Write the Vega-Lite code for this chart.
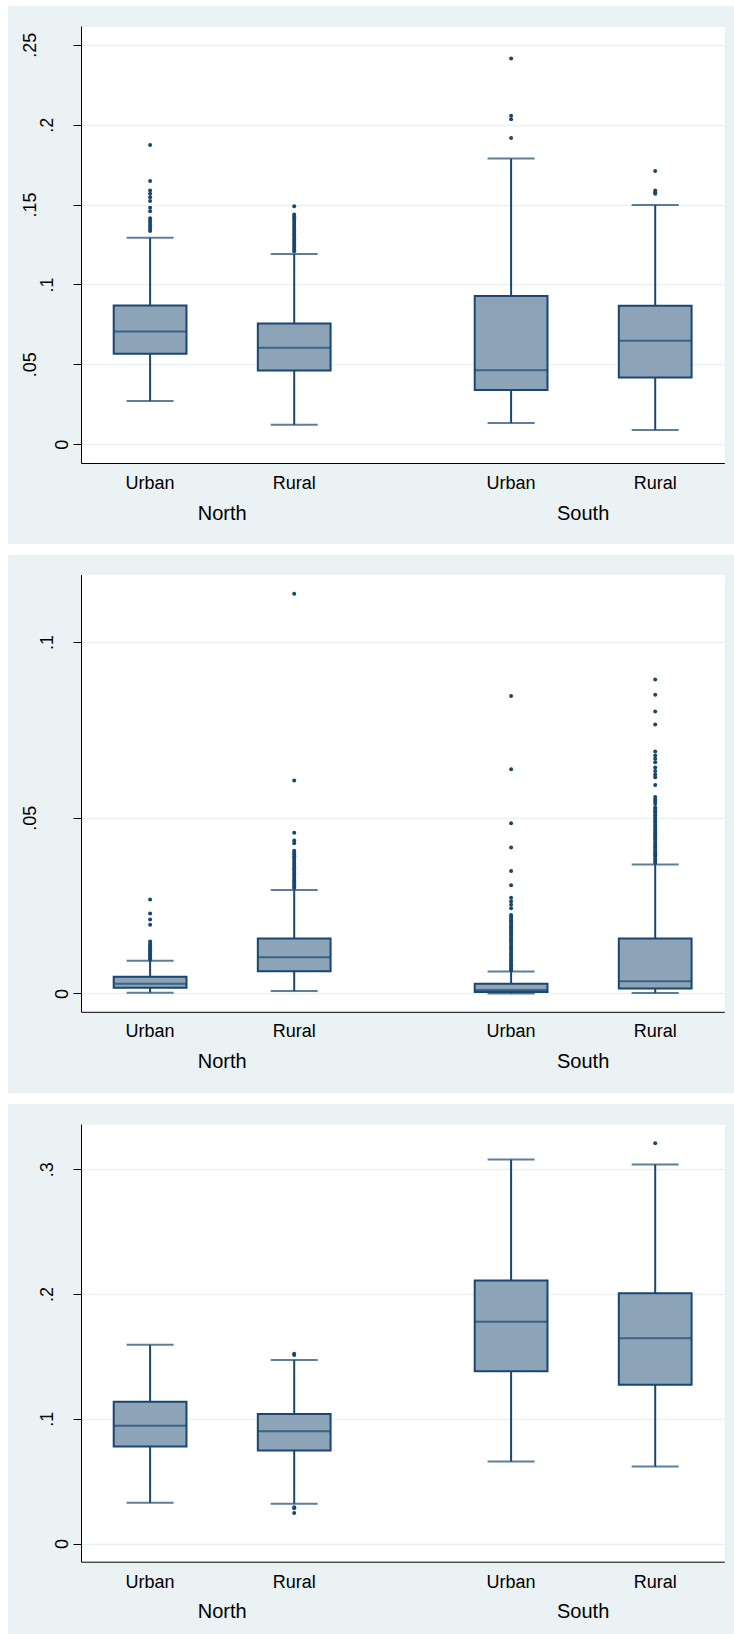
{
  "$schema": "https://vega.github.io/schema/vega-lite/v6.json",
  "background": "white",
  "padding": {"left": 8, "top": 6, "right": 0, "bottom": 0},
  "autosize": {"type": "pad"},
  "spacing": 11,
  "config": {"font": "Liberation Sans", "view": {"stroke": null}},
  "datasets": {
    "summary": [
      {"panel": 1, "region": "North", "area": "Urban", "lower": 0.0270, "q1": 0.0566, "median": 0.0705, "q3": 0.0868, "upper": 0.1292},
      {"panel": 1, "region": "North", "area": "Rural", "lower": 0.0122, "q1": 0.0461, "median": 0.0603, "q3": 0.0755, "upper": 0.1190},
      {"panel": 1, "region": "South", "area": "Urban", "lower": 0.0133, "q1": 0.0339, "median": 0.0463, "q3": 0.0927, "upper": 0.1789},
      {"panel": 1, "region": "South", "area": "Rural", "lower": 0.0089, "q1": 0.0418, "median": 0.0648, "q3": 0.0866, "upper": 0.1497},
      {"panel": 2, "region": "North", "area": "Urban", "lower": 0.0002, "q1": 0.00158, "median": 0.00277, "q3": 0.00475, "upper": 0.00929},
      {"panel": 2, "region": "North", "area": "Rural", "lower": 0.0007, "q1": 0.0063, "median": 0.0103, "q3": 0.0156, "upper": 0.0294},
      {"panel": 2, "region": "South", "area": "Urban", "lower": 0.0000, "q1": 0.0004, "median": 0.00099, "q3": 0.00277, "upper": 0.00623},
      {"panel": 2, "region": "South", "area": "Rural", "lower": 0.0001, "q1": 0.0014, "median": 0.00346, "q3": 0.0156, "upper": 0.0367},
      {"panel": 3, "region": "North", "area": "Urban", "lower": 0.0328, "q1": 0.0777, "median": 0.0944, "q3": 0.1136, "upper": 0.1593},
      {"panel": 3, "region": "North", "area": "Rural", "lower": 0.0320, "q1": 0.0746, "median": 0.0900, "q3": 0.1039, "upper": 0.1470},
      {"panel": 3, "region": "South", "area": "Urban", "lower": 0.0657, "q1": 0.1381, "median": 0.1777, "q3": 0.2108, "upper": 0.3077},
      {"panel": 3, "region": "South", "area": "Rural", "lower": 0.0618, "q1": 0.1273, "median": 0.1646, "q3": 0.2005, "upper": 0.3038}
    ],
    "outliers": [
      {"panel": 1, "region": "North", "area": "Urban", "value": 0.1873},
      {"panel": 1, "region": "North", "area": "Urban", "value": 0.1647},
      {"panel": 1, "region": "North", "area": "Urban", "value": 0.1588},
      {"panel": 1, "region": "North", "area": "Urban", "value": 0.1567},
      {"panel": 1, "region": "North", "area": "Urban", "value": 0.1545},
      {"panel": 1, "region": "North", "area": "Urban", "value": 0.1523},
      {"panel": 1, "region": "North", "area": "Urban", "value": 0.1480},
      {"panel": 1, "region": "North", "area": "Urban", "value": 0.1458},
      {"panel": 1, "region": "North", "area": "Urban", "value": 0.1414},
      {"panel": 1, "region": "North", "area": "Urban", "value": 0.1400},
      {"panel": 1, "region": "North", "area": "Urban", "value": 0.1386},
      {"panel": 1, "region": "North", "area": "Urban", "value": 0.1371},
      {"panel": 1, "region": "North", "area": "Urban", "value": 0.1356},
      {"panel": 1, "region": "North", "area": "Urban", "value": 0.1342},
      {"panel": 1, "region": "North", "area": "Urban", "value": 0.1334},
      {"panel": 1, "region": "North", "area": "Rural", "value": 0.1490},
      {"panel": 1, "region": "North", "area": "Rural", "value": 0.1438},
      {"panel": 1, "region": "North", "area": "Rural", "value": 0.1426},
      {"panel": 1, "region": "North", "area": "Rural", "value": 0.1415},
      {"panel": 1, "region": "North", "area": "Rural", "value": 0.1403},
      {"panel": 1, "region": "North", "area": "Rural", "value": 0.1391},
      {"panel": 1, "region": "North", "area": "Rural", "value": 0.1379},
      {"panel": 1, "region": "North", "area": "Rural", "value": 0.1366},
      {"panel": 1, "region": "North", "area": "Rural", "value": 0.1354},
      {"panel": 1, "region": "North", "area": "Rural", "value": 0.1342},
      {"panel": 1, "region": "North", "area": "Rural", "value": 0.1330},
      {"panel": 1, "region": "North", "area": "Rural", "value": 0.1318},
      {"panel": 1, "region": "North", "area": "Rural", "value": 0.1306},
      {"panel": 1, "region": "North", "area": "Rural", "value": 0.1293},
      {"panel": 1, "region": "North", "area": "Rural", "value": 0.1281},
      {"panel": 1, "region": "North", "area": "Rural", "value": 0.1268},
      {"panel": 1, "region": "North", "area": "Rural", "value": 0.1256},
      {"panel": 1, "region": "North", "area": "Rural", "value": 0.1243},
      {"panel": 1, "region": "North", "area": "Rural", "value": 0.1231},
      {"panel": 1, "region": "North", "area": "Rural", "value": 0.1219},
      {"panel": 1, "region": "North", "area": "Rural", "value": 0.1207},
      {"panel": 1, "region": "South", "area": "Urban", "value": 0.2415},
      {"panel": 1, "region": "South", "area": "Urban", "value": 0.2056},
      {"panel": 1, "region": "South", "area": "Urban", "value": 0.2034},
      {"panel": 1, "region": "South", "area": "Urban", "value": 0.1917},
      {"panel": 1, "region": "South", "area": "Rural", "value": 0.1710},
      {"panel": 1, "region": "South", "area": "Rural", "value": 0.1588},
      {"panel": 1, "region": "South", "area": "Rural", "value": 0.1576},
      {"panel": 1, "region": "South", "area": "Rural", "value": 0.1567},
      {"panel": 2, "region": "North", "area": "Urban", "value": 0.0267},
      {"panel": 2, "region": "North", "area": "Urban", "value": 0.0227},
      {"panel": 2, "region": "North", "area": "Urban", "value": 0.0210},
      {"panel": 2, "region": "North", "area": "Urban", "value": 0.0195},
      {"panel": 2, "region": "North", "area": "Urban", "value": 0.0148},
      {"panel": 2, "region": "North", "area": "Urban", "value": 0.0141},
      {"panel": 2, "region": "North", "area": "Urban", "value": 0.0136},
      {"panel": 2, "region": "North", "area": "Urban", "value": 0.0131},
      {"panel": 2, "region": "North", "area": "Urban", "value": 0.0127},
      {"panel": 2, "region": "North", "area": "Urban", "value": 0.0123},
      {"panel": 2, "region": "North", "area": "Urban", "value": 0.0119},
      {"panel": 2, "region": "North", "area": "Urban", "value": 0.0115},
      {"panel": 2, "region": "North", "area": "Urban", "value": 0.0111},
      {"panel": 2, "region": "North", "area": "Urban", "value": 0.0107},
      {"panel": 2, "region": "North", "area": "Urban", "value": 0.0103},
      {"panel": 2, "region": "North", "area": "Urban", "value": 0.0099},
      {"panel": 2, "region": "North", "area": "Urban", "value": 0.0096},
      {"panel": 2, "region": "North", "area": "Rural", "value": 0.1137},
      {"panel": 2, "region": "North", "area": "Rural", "value": 0.0606},
      {"panel": 2, "region": "North", "area": "Rural", "value": 0.0457},
      {"panel": 2, "region": "North", "area": "Rural", "value": 0.0435},
      {"panel": 2, "region": "North", "area": "Rural", "value": 0.0427},
      {"panel": 2, "region": "North", "area": "Rural", "value": 0.0406},
      {"panel": 2, "region": "North", "area": "Rural", "value": 0.0401},
      {"panel": 2, "region": "North", "area": "Rural", "value": 0.0396},
      {"panel": 2, "region": "North", "area": "Rural", "value": 0.0390},
      {"panel": 2, "region": "North", "area": "Rural", "value": 0.0385},
      {"panel": 2, "region": "North", "area": "Rural", "value": 0.0380},
      {"panel": 2, "region": "North", "area": "Rural", "value": 0.0374},
      {"panel": 2, "region": "North", "area": "Rural", "value": 0.0369},
      {"panel": 2, "region": "North", "area": "Rural", "value": 0.0364},
      {"panel": 2, "region": "North", "area": "Rural", "value": 0.0358},
      {"panel": 2, "region": "North", "area": "Rural", "value": 0.0353},
      {"panel": 2, "region": "North", "area": "Rural", "value": 0.0348},
      {"panel": 2, "region": "North", "area": "Rural", "value": 0.0342},
      {"panel": 2, "region": "North", "area": "Rural", "value": 0.0337},
      {"panel": 2, "region": "North", "area": "Rural", "value": 0.0332},
      {"panel": 2, "region": "North", "area": "Rural", "value": 0.0326},
      {"panel": 2, "region": "North", "area": "Rural", "value": 0.0321},
      {"panel": 2, "region": "North", "area": "Rural", "value": 0.0316},
      {"panel": 2, "region": "North", "area": "Rural", "value": 0.0310},
      {"panel": 2, "region": "North", "area": "Rural", "value": 0.0305},
      {"panel": 2, "region": "North", "area": "Rural", "value": 0.0300},
      {"panel": 2, "region": "South", "area": "Urban", "value": 0.0846},
      {"panel": 2, "region": "South", "area": "Urban", "value": 0.0638},
      {"panel": 2, "region": "South", "area": "Urban", "value": 0.0484},
      {"panel": 2, "region": "South", "area": "Urban", "value": 0.0415},
      {"panel": 2, "region": "South", "area": "Urban", "value": 0.0348},
      {"panel": 2, "region": "South", "area": "Urban", "value": 0.0308},
      {"panel": 2, "region": "South", "area": "Urban", "value": 0.0272},
      {"panel": 2, "region": "South", "area": "Urban", "value": 0.0262},
      {"panel": 2, "region": "South", "area": "Urban", "value": 0.0252},
      {"panel": 2, "region": "South", "area": "Urban", "value": 0.0242},
      {"panel": 2, "region": "South", "area": "Urban", "value": 0.0223},
      {"panel": 2, "region": "South", "area": "Urban", "value": 0.0219},
      {"panel": 2, "region": "South", "area": "Urban", "value": 0.0213},
      {"panel": 2, "region": "South", "area": "Urban", "value": 0.0208},
      {"panel": 2, "region": "South", "area": "Urban", "value": 0.0204},
      {"panel": 2, "region": "South", "area": "Urban", "value": 0.0199},
      {"panel": 2, "region": "South", "area": "Urban", "value": 0.0193},
      {"panel": 2, "region": "South", "area": "Urban", "value": 0.0188},
      {"panel": 2, "region": "South", "area": "Urban", "value": 0.0184},
      {"panel": 2, "region": "South", "area": "Urban", "value": 0.0179},
      {"panel": 2, "region": "South", "area": "Urban", "value": 0.0173},
      {"panel": 2, "region": "South", "area": "Urban", "value": 0.0168},
      {"panel": 2, "region": "South", "area": "Urban", "value": 0.0164},
      {"panel": 2, "region": "South", "area": "Urban", "value": 0.0158},
      {"panel": 2, "region": "South", "area": "Urban", "value": 0.0153},
      {"panel": 2, "region": "South", "area": "Urban", "value": 0.0149},
      {"panel": 2, "region": "South", "area": "Urban", "value": 0.0144},
      {"panel": 2, "region": "South", "area": "Urban", "value": 0.0138},
      {"panel": 2, "region": "South", "area": "Urban", "value": 0.0133},
      {"panel": 2, "region": "South", "area": "Urban", "value": 0.0129},
      {"panel": 2, "region": "South", "area": "Urban", "value": 0.0124},
      {"panel": 2, "region": "South", "area": "Urban", "value": 0.0118},
      {"panel": 2, "region": "South", "area": "Urban", "value": 0.0113},
      {"panel": 2, "region": "South", "area": "Urban", "value": 0.0109},
      {"panel": 2, "region": "South", "area": "Urban", "value": 0.0104},
      {"panel": 2, "region": "South", "area": "Urban", "value": 0.0098},
      {"panel": 2, "region": "South", "area": "Urban", "value": 0.0094},
      {"panel": 2, "region": "South", "area": "Urban", "value": 0.0089},
      {"panel": 2, "region": "South", "area": "Urban", "value": 0.0084},
      {"panel": 2, "region": "South", "area": "Urban", "value": 0.0079},
      {"panel": 2, "region": "South", "area": "Urban", "value": 0.0075},
      {"panel": 2, "region": "South", "area": "Urban", "value": 0.0070},
      {"panel": 2, "region": "South", "area": "Urban", "value": 0.0066},
      {"panel": 2, "region": "South", "area": "Rural", "value": 0.0893},
      {"panel": 2, "region": "South", "area": "Rural", "value": 0.0850},
      {"panel": 2, "region": "South", "area": "Rural", "value": 0.0802},
      {"panel": 2, "region": "South", "area": "Rural", "value": 0.0765},
      {"panel": 2, "region": "South", "area": "Rural", "value": 0.0688},
      {"panel": 2, "region": "South", "area": "Rural", "value": 0.0677},
      {"panel": 2, "region": "South", "area": "Rural", "value": 0.0668},
      {"panel": 2, "region": "South", "area": "Rural", "value": 0.0658},
      {"panel": 2, "region": "South", "area": "Rural", "value": 0.0643},
      {"panel": 2, "region": "South", "area": "Rural", "value": 0.0633},
      {"panel": 2, "region": "South", "area": "Rural", "value": 0.0623},
      {"panel": 2, "region": "South", "area": "Rural", "value": 0.0615},
      {"panel": 2, "region": "South", "area": "Rural", "value": 0.0593},
      {"panel": 2, "region": "South", "area": "Rural", "value": 0.0559},
      {"panel": 2, "region": "South", "area": "Rural", "value": 0.0552},
      {"panel": 2, "region": "South", "area": "Rural", "value": 0.0546},
      {"panel": 2, "region": "South", "area": "Rural", "value": 0.0539},
      {"panel": 2, "region": "South", "area": "Rural", "value": 0.0529},
      {"panel": 2, "region": "South", "area": "Rural", "value": 0.0524},
      {"panel": 2, "region": "South", "area": "Rural", "value": 0.0518},
      {"panel": 2, "region": "South", "area": "Rural", "value": 0.0513},
      {"panel": 2, "region": "South", "area": "Rural", "value": 0.0507},
      {"panel": 2, "region": "South", "area": "Rural", "value": 0.0502},
      {"panel": 2, "region": "South", "area": "Rural", "value": 0.0496},
      {"panel": 2, "region": "South", "area": "Rural", "value": 0.0491},
      {"panel": 2, "region": "South", "area": "Rural", "value": 0.0486},
      {"panel": 2, "region": "South", "area": "Rural", "value": 0.0480},
      {"panel": 2, "region": "South", "area": "Rural", "value": 0.0475},
      {"panel": 2, "region": "South", "area": "Rural", "value": 0.0469},
      {"panel": 2, "region": "South", "area": "Rural", "value": 0.0464},
      {"panel": 2, "region": "South", "area": "Rural", "value": 0.0458},
      {"panel": 2, "region": "South", "area": "Rural", "value": 0.0453},
      {"panel": 2, "region": "South", "area": "Rural", "value": 0.0447},
      {"panel": 2, "region": "South", "area": "Rural", "value": 0.0442},
      {"panel": 2, "region": "South", "area": "Rural", "value": 0.0437},
      {"panel": 2, "region": "South", "area": "Rural", "value": 0.0431},
      {"panel": 2, "region": "South", "area": "Rural", "value": 0.0426},
      {"panel": 2, "region": "South", "area": "Rural", "value": 0.0420},
      {"panel": 2, "region": "South", "area": "Rural", "value": 0.0415},
      {"panel": 2, "region": "South", "area": "Rural", "value": 0.0409},
      {"panel": 2, "region": "South", "area": "Rural", "value": 0.0404},
      {"panel": 2, "region": "South", "area": "Rural", "value": 0.0399},
      {"panel": 2, "region": "South", "area": "Rural", "value": 0.0393},
      {"panel": 2, "region": "South", "area": "Rural", "value": 0.0388},
      {"panel": 2, "region": "South", "area": "Rural", "value": 0.0382},
      {"panel": 2, "region": "South", "area": "Rural", "value": 0.0377},
      {"panel": 2, "region": "South", "area": "Rural", "value": 0.0372},
      {"panel": 3, "region": "North", "area": "Rural", "value": 0.1522},
      {"panel": 3, "region": "North", "area": "Rural", "value": 0.1511},
      {"panel": 3, "region": "North", "area": "Rural", "value": 0.0292},
      {"panel": 3, "region": "North", "area": "Rural", "value": 0.0283},
      {"panel": 3, "region": "North", "area": "Rural", "value": 0.0245},
      {"panel": 3, "region": "South", "area": "Rural", "value": 0.3208}
    ]
  },
  "vconcat": [
    {
      "width": 726, "height": 538,
      "view": {"fill": "#EAF2F3", "stroke": null},
      "resolve": {"axis": {"y": "independent"}},
      "layer": [
        {
          "data": {"name": "summary"},
          "transform": [{"filter": "datum.panel == 1"}],
          "mark": {"type": "rule", "color": "#1A476F", "strokeWidth": 2},
          "encoding": {
            "x": {"field": "region", "type": "nominal",
              "scale": {"domain": ["North", "South"], "range": [73, 716.3], "paddingInner": 0.218, "paddingOuter": 0},
              "axis": {"title": null, "orient": "bottom", "offset": -81, "domainColor": "black", "domainWidth": 1, "ticks": false, "tickSize": 0, "labelAngle": 0, "labelFontSize": 20, "labelFont": "Liberation Sans", "labelColor": "black", "labelBaseline": "alphabetic", "labelAlign": "center", "labelPadding": 56, "grid": false}},
            "xOffset": {"field": "area", "type": "nominal", "scale": {"domain": ["Urban", "Rural"], "paddingInner": 0.495, "paddingOuter": 0.227}},
            "y": {"field": "lower", "type": "quantitative",
              "scale": {"domain": [-0.01177, 0.26177], "range": [457, 20], "nice": false, "zero": false},
              "axis": {"orient": "left", "offset": -73, "title": null, "values": [0.125], "grid": true, "gridColor": "white", "gridWidth": 437, "domain": false, "ticks": false, "labels": false}},
            "y2": {"field": "upper"}
          }
        },
        {
          "data": {"name": "summary"},
          "transform": [{"filter": "datum.panel == 1"}],
          "mark": {"type": "bar", "fill": "#8DA3B8", "stroke": "#1A476F", "strokeWidth": 2},
          "encoding": {
            "x": {"field": "region", "type": "nominal"},
            "xOffset": {"field": "area", "type": "nominal"},
            "y": {"field": "q1", "type": "quantitative",
              "axis": {"orient": "left", "offset": -73, "title": null, "values": [0, 0.05, 0.1, 0.15, 0.2, 0.25],
                "labelExpr": "datum.value == 0 ? '0' : substring(format(datum.value, '.2~f'), 1)",
                "labelAngle": -90, "labelAlign": "center", "labelBaseline": "alphabetic", "labelFontSize": 18, "labelFont": "Liberation Sans", "labelColor": "black",
                "labelPadding": {"expr": "datum.value == 0 ? 6 : (round(datum.value * 100) % 10 == 0 ? 21 : 38)"},
                "labelOverlap": false, "labelFlush": false, "tickSize": 8, "tickColor": "black", "domainColor": "black", "domainWidth": 1,
                "grid": true, "gridColor": "#EAF2F3", "gridWidth": 1.5}},
            "y2": {"field": "q3"}
          }
        },
        {
          "data": {"name": "summary"},
          "transform": [{"filter": "datum.panel == 1"}],
          "mark": {"type": "tick", "color": "#1A476F", "size": 72, "thickness": 2},
          "encoding": {
            "x": {"field": "region", "type": "nominal"},
            "xOffset": {"field": "area", "type": "nominal"},
            "y": {"field": "median", "type": "quantitative", "axis": null}
          }
        },
        {
          "data": {"name": "summary"},
          "transform": [{"filter": "datum.panel == 1"}],
          "mark": {"type": "tick", "color": "#1A476F", "size": 47, "thickness": 2},
          "encoding": {
            "x": {"field": "region", "type": "nominal"},
            "xOffset": {"field": "area", "type": "nominal"},
            "y": {"field": "lower", "type": "quantitative", "axis": null}
          }
        },
        {
          "data": {"name": "summary"},
          "transform": [{"filter": "datum.panel == 1"}],
          "mark": {"type": "tick", "color": "#1A476F", "size": 47, "thickness": 2},
          "encoding": {
            "x": {"field": "region", "type": "nominal"},
            "xOffset": {"field": "area", "type": "nominal"},
            "y": {"field": "upper", "type": "quantitative", "axis": null}
          }
        },
        {
          "data": {"name": "outliers"},
          "transform": [{"filter": "datum.panel == 1"}],
          "mark": {"type": "point", "filled": true, "color": "#1A476F", "opacity": 1, "size": 16},
          "encoding": {
            "x": {"field": "region", "type": "nominal"},
            "xOffset": {"field": "area", "type": "nominal"},
            "y": {"field": "value", "type": "quantitative", "axis": null}
          }
        },
        {
          "data": {"name": "summary"},
          "transform": [{"filter": "datum.panel == 1"}],
          "mark": {"type": "text", "fontSize": 18, "font": "Liberation Sans", "color": "black", "baseline": "alphabetic", "align": "center", "dy": 25.5},
          "encoding": {
            "x": {"field": "region", "type": "nominal"},
            "xOffset": {"field": "area", "type": "nominal"},
            "y": {"datum": -0.01177, "type": "quantitative", "axis": null},
            "text": {"field": "area"}
          }
        }
      ]
    },
    {
      "width": 726, "height": 538,
      "view": {"fill": "#EAF2F3", "stroke": null},
      "resolve": {"axis": {"y": "independent"}},
      "layer": [
        {
          "data": {"name": "summary"},
          "transform": [{"filter": "datum.panel == 2"}],
          "mark": {"type": "rule", "color": "#1A476F", "strokeWidth": 2},
          "encoding": {
            "x": {"field": "region", "type": "nominal",
              "scale": {"domain": ["North", "South"], "range": [73, 716.3], "paddingInner": 0.218, "paddingOuter": 0},
              "axis": {"title": null, "orient": "bottom", "offset": -81.2, "domainColor": "black", "domainWidth": 1, "ticks": false, "tickSize": 0, "labelAngle": 0, "labelFontSize": 20, "labelFont": "Liberation Sans", "labelColor": "black", "labelBaseline": "alphabetic", "labelAlign": "center", "labelPadding": 56, "grid": false}},
            "xOffset": {"field": "area", "type": "nominal", "scale": {"domain": ["Urban", "Rural"], "paddingInner": 0.495, "paddingOuter": 0.227}},
            "y": {"field": "lower", "type": "quantitative",
              "scale": {"domain": [-0.00524, 0.1192], "range": [456.8, 19.5], "nice": false, "zero": false},
              "axis": {"orient": "left", "offset": -73, "title": null, "values": [0.05698], "grid": true, "gridColor": "white", "gridWidth": 437.3, "domain": false, "ticks": false, "labels": false}},
            "y2": {"field": "upper"}
          }
        },
        {
          "data": {"name": "summary"},
          "transform": [{"filter": "datum.panel == 2"}],
          "mark": {"type": "bar", "fill": "#8DA3B8", "stroke": "#1A476F", "strokeWidth": 2},
          "encoding": {
            "x": {"field": "region", "type": "nominal"},
            "xOffset": {"field": "area", "type": "nominal"},
            "y": {"field": "q1", "type": "quantitative",
              "axis": {"orient": "left", "offset": -73, "title": null, "values": [0, 0.05, 0.1],
                "labelExpr": "datum.value == 0 ? '0' : substring(format(datum.value, '.2~f'), 1)",
                "labelAngle": -90, "labelAlign": "center", "labelBaseline": "alphabetic", "labelFontSize": 18, "labelFont": "Liberation Sans", "labelColor": "black",
                "labelPadding": {"expr": "datum.value == 0 ? 6 : (round(datum.value * 100) % 10 == 0 ? 21 : 38)"},
                "labelOverlap": false, "labelFlush": false, "tickSize": 8, "tickColor": "black", "domainColor": "black", "domainWidth": 1,
                "grid": true, "gridColor": "#EAF2F3", "gridWidth": 1.5}},
            "y2": {"field": "q3"}
          }
        },
        {
          "data": {"name": "summary"},
          "transform": [{"filter": "datum.panel == 2"}],
          "mark": {"type": "tick", "color": "#1A476F", "size": 72, "thickness": 2},
          "encoding": {
            "x": {"field": "region", "type": "nominal"},
            "xOffset": {"field": "area", "type": "nominal"},
            "y": {"field": "median", "type": "quantitative", "axis": null}
          }
        },
        {
          "data": {"name": "summary"},
          "transform": [{"filter": "datum.panel == 2"}],
          "mark": {"type": "tick", "color": "#1A476F", "size": 47, "thickness": 2},
          "encoding": {
            "x": {"field": "region", "type": "nominal"},
            "xOffset": {"field": "area", "type": "nominal"},
            "y": {"field": "lower", "type": "quantitative", "axis": null}
          }
        },
        {
          "data": {"name": "summary"},
          "transform": [{"filter": "datum.panel == 2"}],
          "mark": {"type": "tick", "color": "#1A476F", "size": 47, "thickness": 2},
          "encoding": {
            "x": {"field": "region", "type": "nominal"},
            "xOffset": {"field": "area", "type": "nominal"},
            "y": {"field": "upper", "type": "quantitative", "axis": null}
          }
        },
        {
          "data": {"name": "outliers"},
          "transform": [{"filter": "datum.panel == 2"}],
          "mark": {"type": "point", "filled": true, "color": "#1A476F", "opacity": 1, "size": 16},
          "encoding": {
            "x": {"field": "region", "type": "nominal"},
            "xOffset": {"field": "area", "type": "nominal"},
            "y": {"field": "value", "type": "quantitative", "axis": null}
          }
        },
        {
          "data": {"name": "summary"},
          "transform": [{"filter": "datum.panel == 2"}],
          "mark": {"type": "text", "fontSize": 18, "font": "Liberation Sans", "color": "black", "baseline": "alphabetic", "align": "center", "dy": 25.5},
          "encoding": {
            "x": {"field": "region", "type": "nominal"},
            "xOffset": {"field": "area", "type": "nominal"},
            "y": {"datum": -0.00524, "type": "quantitative", "axis": null},
            "text": {"field": "area"}
          }
        }
      ]
    },
    {
      "width": 726, "height": 530,
      "view": {"fill": "#EAF2F3", "stroke": null},
      "resolve": {"axis": {"y": "independent"}},
      "layer": [
        {
          "data": {"name": "summary"},
          "transform": [{"filter": "datum.panel == 3"}],
          "mark": {"type": "rule", "color": "#1A476F", "strokeWidth": 2},
          "encoding": {
            "x": {"field": "region", "type": "nominal",
              "scale": {"domain": ["North", "South"], "range": [73, 716.3], "paddingInner": 0.218, "paddingOuter": 0},
              "axis": {"title": null, "orient": "bottom", "offset": -72.3, "domainColor": "black", "domainWidth": 1, "ticks": false, "tickSize": 0, "labelAngle": 0, "labelFontSize": 20, "labelFont": "Liberation Sans", "labelColor": "black", "labelBaseline": "alphabetic", "labelAlign": "center", "labelPadding": 56, "grid": false}},
            "xOffset": {"field": "area", "type": "nominal", "scale": {"domain": ["Urban", "Rural"], "paddingInner": 0.495, "paddingOuter": 0.227}},
            "y": {"field": "lower", "type": "quantitative",
              "scale": {"domain": [-0.0145, 0.3361], "range": [457.7, 20.1], "nice": false, "zero": false},
              "axis": {"orient": "left", "offset": -73, "title": null, "values": [0.1608], "grid": true, "gridColor": "white", "gridWidth": 437.6, "domain": false, "ticks": false, "labels": false}},
            "y2": {"field": "upper"}
          }
        },
        {
          "data": {"name": "summary"},
          "transform": [{"filter": "datum.panel == 3"}],
          "mark": {"type": "bar", "fill": "#8DA3B8", "stroke": "#1A476F", "strokeWidth": 2},
          "encoding": {
            "x": {"field": "region", "type": "nominal"},
            "xOffset": {"field": "area", "type": "nominal"},
            "y": {"field": "q1", "type": "quantitative",
              "axis": {"orient": "left", "offset": -73, "title": null, "values": [0, 0.1, 0.2, 0.3],
                "labelExpr": "datum.value == 0 ? '0' : substring(format(datum.value, '.2~f'), 1)",
                "labelAngle": -90, "labelAlign": "center", "labelBaseline": "alphabetic", "labelFontSize": 18, "labelFont": "Liberation Sans", "labelColor": "black",
                "labelPadding": {"expr": "datum.value == 0 ? 6 : (round(datum.value * 100) % 10 == 0 ? 21 : 38)"},
                "labelOverlap": false, "labelFlush": false, "tickSize": 8, "tickColor": "black", "domainColor": "black", "domainWidth": 1,
                "grid": true, "gridColor": "#EAF2F3", "gridWidth": 1.5}},
            "y2": {"field": "q3"}
          }
        },
        {
          "data": {"name": "summary"},
          "transform": [{"filter": "datum.panel == 3"}],
          "mark": {"type": "tick", "color": "#1A476F", "size": 72, "thickness": 2},
          "encoding": {
            "x": {"field": "region", "type": "nominal"},
            "xOffset": {"field": "area", "type": "nominal"},
            "y": {"field": "median", "type": "quantitative", "axis": null}
          }
        },
        {
          "data": {"name": "summary"},
          "transform": [{"filter": "datum.panel == 3"}],
          "mark": {"type": "tick", "color": "#1A476F", "size": 47, "thickness": 2},
          "encoding": {
            "x": {"field": "region", "type": "nominal"},
            "xOffset": {"field": "area", "type": "nominal"},
            "y": {"field": "lower", "type": "quantitative", "axis": null}
          }
        },
        {
          "data": {"name": "summary"},
          "transform": [{"filter": "datum.panel == 3"}],
          "mark": {"type": "tick", "color": "#1A476F", "size": 47, "thickness": 2},
          "encoding": {
            "x": {"field": "region", "type": "nominal"},
            "xOffset": {"field": "area", "type": "nominal"},
            "y": {"field": "upper", "type": "quantitative", "axis": null}
          }
        },
        {
          "data": {"name": "outliers"},
          "transform": [{"filter": "datum.panel == 3"}],
          "mark": {"type": "point", "filled": true, "color": "#1A476F", "opacity": 1, "size": 16},
          "encoding": {
            "x": {"field": "region", "type": "nominal"},
            "xOffset": {"field": "area", "type": "nominal"},
            "y": {"field": "value", "type": "quantitative", "axis": null}
          }
        },
        {
          "data": {"name": "summary"},
          "transform": [{"filter": "datum.panel == 3"}],
          "mark": {"type": "text", "fontSize": 18, "font": "Liberation Sans", "color": "black", "baseline": "alphabetic", "align": "center", "dy": 26},
          "encoding": {
            "x": {"field": "region", "type": "nominal"},
            "xOffset": {"field": "area", "type": "nominal"},
            "y": {"datum": -0.0145, "type": "quantitative", "axis": null},
            "text": {"field": "area"}
          }
        }
      ]
    }
  ]
}
